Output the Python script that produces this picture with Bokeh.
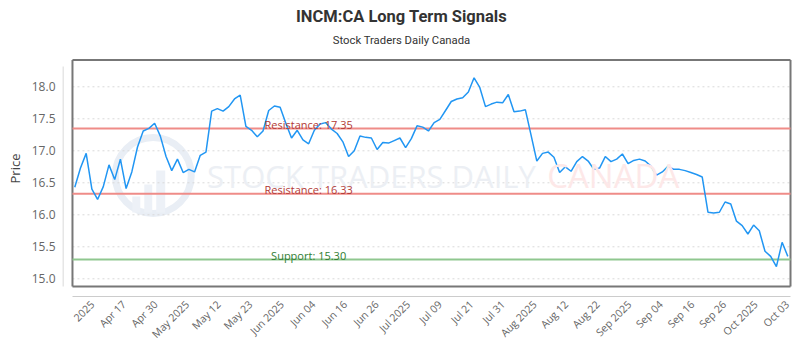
import math
from bokeh.plotting import figure
from bokeh.models import Range1d, FixedTicker, Label, Title, PrintfTickFormatter
from bokeh.embed import file_html
from bokeh.resources import INLINE

# ---------------- data ----------------
price = [16.43, 16.73, 16.96, 16.40, 16.24, 16.44, 16.78, 16.55, 16.87, 16.41,
         16.67, 17.06, 17.31, 17.35, 17.43, 17.23, 16.91, 16.69, 16.87, 16.66,
         16.71, 16.67, 16.93, 16.98, 17.62, 17.66, 17.62, 17.69, 17.81, 17.87,
         17.38, 17.32, 17.22, 17.31, 17.63, 17.70, 17.68, 17.43, 17.20, 17.32,
         17.17, 17.11, 17.32, 17.42, 17.44, 17.34, 17.27, 17.14, 16.91, 17.00,
         17.23, 17.21, 17.20, 17.02, 17.13, 17.12, 17.16, 17.20, 17.05, 17.19,
         17.39, 17.37, 17.31, 17.44, 17.49, 17.63, 17.77, 17.81, 17.83, 17.92,
         18.14, 17.99, 17.69, 17.73, 17.76, 17.75, 17.88, 17.61, 17.62, 17.64,
         17.24, 16.84, 16.96, 16.98, 16.90, 16.66, 16.75, 16.68, 16.83, 16.91,
         16.84, 16.71, 16.73, 16.91, 16.83, 16.87, 16.95, 16.80, 16.85, 16.87,
         16.84, 16.76, 16.62, 16.67, 16.76, 16.71, 16.71, 16.69, 16.66, 16.63,
         16.59, 16.04, 16.03, 16.04, 16.20, 16.17, 15.90, 15.83, 15.70, 15.84,
         15.75, 15.43, 15.35, 15.19, 15.57, 15.35]
day = list(range(len(price)))

tick_labels = ["2025", "Apr 17", "Apr 30", "May 2025", "May 12", "May 23",
               "Jun 2025", "Jun 04", "Jun 16", "Jun 26", "Jul 2025", "Jul 09",
               "Jul 21", "Jul 31", "Aug 2025", "Aug 12", "Aug 22", "Sep 2025",
               "Sep 04", "Sep 16", "Sep 26", "Oct 2025", "Oct 03"]
tick_pos = [round(3.09 + 5.537 * k, 3) for k in range(len(tick_labels))]

y_ticks = [15.0, 15.5, 16.0, 16.5, 17.0, 17.5, 18.0]

resistance = [17.35, 16.33]
support = [15.30]
label_day = 41

# ---------------- geometry (canvas pixels) ----------------
FL, FR, FT, FB = 60, 792, 0, 296
X0_PX, DX_PX = 72.3, 5.72      # pixel of day 0, pixels per day
Y15_PX, DY_PX = 278.3, 64.0    # pixel of 15.0, pixels per unit


def px2x(px):
    return (px - X0_PX) / DX_PX


def py2y(py):
    return 15.0 + (Y15_PX - py) / DY_PX


x_range = Range1d(px2x(FL), px2x(FR))
y_range = Range1d(py2y(FB), py2y(FT))

p = figure(width=800, height=350, x_range=x_range, y_range=y_range,
           min_border_left=FL, min_border_right=800 - FR,
           min_border_top=FT, min_border_bottom=350 - FB,
           toolbar_location=None, output_backend="svg", title=None)
p.outline_line_color = None
p.background_fill_color = "white"
p.border_fill_color = "white"
p.xgrid.visible = False
p.ygrid.visible = False

# inner box
in_l, in_r = px2x(70), px2x(790)
in_t, in_b = py2y(59.5), py2y(286)

# ---------------- watermark ----------------
p.scatter(x=[px2x(151)], y=[py2y(175)], size=76, marker="circle",
          fill_color=None, line_color="#e9eef5", line_width=7)
p.quad(left=[px2x(130), px2x(142), px2x(154)],
       right=[px2x(138), px2x(150), px2x(163)],
       top=[py2y(196), py2y(184), py2y(170)],
       bottom=[py2y(212), py2y(212), py2y(212)],
       fill_color="#edf1f7", line_color=None)
p.add_layout(Label(x=px2x(205), y=py2y(175), text="STOCK TRADERS DAILY",
                   text_align="left", text_baseline="middle",
                   text_font="Open Sans", text_font_size="31px",
                   text_color="#eceff4"))
p.add_layout(Label(x=px2x(546), y=py2y(175), text="CANADA",
                   text_align="left", text_baseline="middle",
                   text_font="Open Sans", text_font_size="33px",
                   text_color="#fde8e8"))

# ---------------- grid ----------------
p.segment(x0=[in_l] * len(y_ticks), x1=[in_r] * len(y_ticks),
          y0=y_ticks, y1=y_ticks, line_color="#d9d9d9", line_width=1,
          line_dash="2 3")

# box around the plotting area
p.segment(x0=[in_l, in_l, in_l, in_r], x1=[in_r, in_r, in_l, in_r],
          y0=[in_t, in_b, in_b, in_b], y1=[in_t, in_b, in_t, in_t],
          line_color="#777777", line_width=2)

# y axis line (offset from the box)
p.segment(x0=[px2x(60.5)], x1=[px2x(60.5)], y0=[py2y(66)], y1=[py2y(286)],
          line_color="#cccccc", line_width=1)

# ---------------- levels ----------------
for lvl in resistance:
    p.segment(x0=[in_l], x1=[in_r], y0=[lvl], y1=[lvl],
              line_color="#ef8c88", line_width=2)
    p.add_layout(Label(x=label_day, y=lvl, y_offset=4,
                       text="Resistance: %.2f" % lvl,
                       text_align="center", text_baseline="alphabetic",
                       text_font="Open Sans", text_font_size="11px",
                       text_color="#b23a36"))
for lvl in support:
    p.segment(x0=[in_l], x1=[in_r], y0=[lvl], y1=[lvl],
              line_color="#8fc78f", line_width=2)
    p.add_layout(Label(x=label_day, y=lvl, y_offset=4,
                       text="Support: %.2f" % lvl,
                       text_align="center", text_baseline="alphabetic",
                       text_font="Open Sans", text_font_size="11px",
                       text_color="#2f7d32"))

# ---------------- price line ----------------
p.line(x=day, y=price, line_color="#2196f3", line_width=1.5)

# ---------------- axes ----------------
ya = p.yaxis[0]
ya.ticker = FixedTicker(ticks=y_ticks)
ya.formatter = PrintfTickFormatter(format="%.1f")
ya.axis_line_color = None
ya.major_tick_line_color = None
ya.minor_tick_line_color = None
ya.major_tick_out = 0
ya.major_tick_in = 0
ya.major_label_standoff = 7
ya.major_label_text_font = "Open Sans"
ya.major_label_text_font_size = "12px"
ya.major_label_text_color = "#666666"

p.add_layout(Title(text="Price", align="left", offset=113,
                   vertical_align="middle", standoff=8,
                   text_font="Open Sans", text_font_size="13px",
                   text_font_style="normal", text_color="#444444"), "left")

xa = p.xaxis[0]
xa.ticker = FixedTicker(ticks=tick_pos)
xa.major_label_overrides = {t: l for t, l in zip(tick_pos, tick_labels)}
xa.major_label_orientation = math.pi / 4
xa.bounds = (in_l, in_r)
xa.axis_line_color = "#cccccc"
xa.axis_line_width = 1
xa.major_tick_line_color = None
xa.minor_tick_line_color = None
xa.major_tick_out = 0
xa.major_tick_in = 0
xa.major_label_standoff = 6
xa.major_label_text_font = "Open Sans"
xa.major_label_text_font_size = "10.5px"
xa.major_label_text_color = "#666666"

# ---------------- titles ----------------
p.add_layout(Label(x=px2x(400), y=py2y(16), text="INCM:CA Long Term Signals",
                   text_align="center", text_baseline="middle",
                   text_font="Roboto", text_font_style="bold",
                   text_font_size="16.5px", text_color="#333333"))
p.add_layout(Label(x=px2x(400), y=py2y(40), text="Stock Traders Daily Canada",
                   text_align="center", text_baseline="middle",
                   text_font="Roboto", text_font_size="11.3px",
                   text_color="#333333"))

open("out.html", "w").write(file_html(p, INLINE))
